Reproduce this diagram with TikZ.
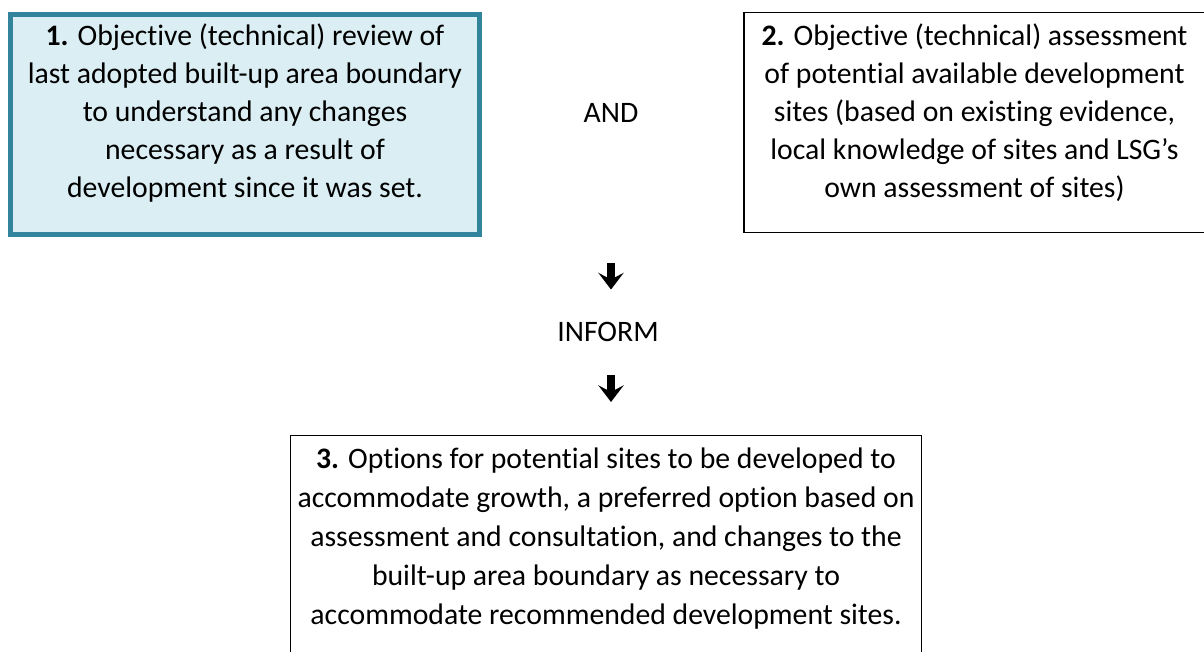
\documentclass[tikz,border=0pt]{standalone}
\usepackage{fontspec}
\setmainfont{Carlito}[Ligatures=CommonOff]
\usepackage{xcolor}
\usepackage{tikz}
\usetikzlibrary{arrows.meta, positioning}
\definecolor{stageteal}{HTML}{31849B}
\definecolor{stagefill}{HTML}{DAEEF3}
% text set from the top of a box: height, width, first baseline, lines
\newcommand{\stagetext}[4]{\parbox[c][#1][t]{#2}{\centering\rule{0pt}{#3}#4}}
\tikzstyle{firstbox} = [rectangle, draw=stageteal, fill=stagefill, line width=3.75pt,
  inner sep=0pt, font=\fontsize{22.3}{28.5}\selectfont]
\tikzstyle{plainbox} = [rectangle, draw=black, line width=1.1pt,
  inner sep=0pt, font=\fontsize{22.3}{28.5}\selectfont]
\tikzstyle{joinword} = [anchor=base, font=\fontsize{22.3}{26}\selectfont]
\tikzstyle{downarrow} = [line width=5.5pt, -{Stealth[length=12.5pt, width=19pt, inset=5pt]}]

\begin{document}
\begin{tikzpicture}[x=0.75pt, y=-0.75pt]
  \useasboundingbox (0,0) rectangle (1204,652);

  \node (review) [firstbox, minimum width=351.75pt, minimum height=165pt] at (245,124.5)
    {\stagetext{165pt}{348pt}{23.4pt}{\textbf{1.} Objective (technical) review of\\
     last adopted built-up area boundary\\ to understand any changes\\
     necessary as a result of\\ development since it was set.}};
  \node (assess) [plainbox, minimum width=345.75pt, minimum height=164.7pt] at (974.5,122.5)
    {\stagetext{164.7pt}{344pt}{24.75pt}{\textbf{2.} Objective (technical) assessment\\
     of potential available development\\ sites (based on existing evidence,\\
     local knowledge of sites and LSG’s\\ own assessment of sites)}};
  \node (and) [joinword] at (611,122.3) {AND};

  \node (inform) [joinword] at (608,341.7) {INFORM};
  \coordinate (up1) at (611,263);
  \coordinate (dn1) at (611,289.5);
  \coordinate (up2) at (611,375);
  \coordinate (dn2) at (611,402);

  \node (options) [plainbox, font=\fontsize{22.3}{29.4}\selectfont,
    minimum width=473.25pt, minimum height=198.4pt] at (606,567.75)
    {\stagetext{198.4pt}{470pt}{24.4pt}{\textbf{3.} Options for potential sites to be developed to\\
     accommodate growth, a preferred option based on\\
     assessment and consultation, and changes to the\\
     built-up area boundary as necessary to\\
     accommodate recommended development sites.}};

  \draw[downarrow] (up1) -- (dn1);
  \draw[downarrow] (up2) -- (dn2);
\end{tikzpicture}
\end{document}
